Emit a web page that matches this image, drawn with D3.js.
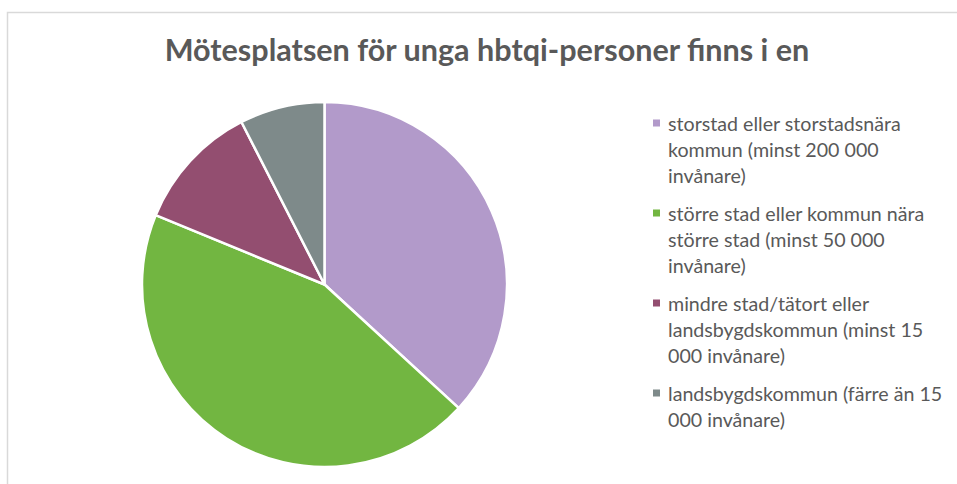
<!DOCTYPE html>
<html>
<head>
<meta charset="utf-8">
<script src="https://cdn.jsdelivr.net/npm/d3@7"></script>
<style>
  body { margin: 0; background: #fff; }
  svg { display: block; }
  text { font-family: Lato, "Open Sans", sans-serif; fill: #595959; }
</style>
</head>
<body>
<svg id="canvas"></svg>
<script>
let title = "Mötesplatsen för unga hbtqi-personer finns i en";

// categories, legend lines as they wrap in the original
let categories = [
  ["storstad eller storstadsnära", "kommun (minst 200 000", "invånare)"],
  ["större stad eller kommun nära", "större stad (minst 50 000", "invånare)"],
  ["mindre stad/tätort eller", "landsbygdskommun (minst 15", "000 invånare)"],
  ["landsbygdskommun (färre än 15", "000 invånare)"]
];
let values = [49, 59, 15, 10];
let colors = ["#B29ACA", "#72B641", "#934E70", "#7E8A8A"];

let width = 957;
let height = 484;

let canvas = d3.select("#canvas");
canvas.attr("width", width).attr("height", height);

// frame of the chart area (only top and left edges are visible)
canvas.append("path")
  .attr("d", "M7.5,484 V12.5 H957")
  .attr("fill", "none")
  .attr("stroke", "#D9D9D9")
  .attr("stroke-width", 1.5);

// title
let titleText = canvas.append("text")
  .attr("x", 487)
  .attr("y", 61)
  .attr("text-anchor", "middle")
  .attr("font-weight", "bold")
  .attr("font-size", 28)
  .text(title);
let tw = titleText.node().getComputedTextLength();
titleText.attr("font-size", 28 * 645 / tw);

// pie
let cx = 324.5;
let cy = 284.5;
let radius = 182.5;

let pie = d3.pie().sort(null).value((d) => d);
let arc = d3.arc().innerRadius(0).outerRadius(radius);

canvas.append("g")
  .attr("transform", "translate(" + cx + "," + cy + ")")
  .selectAll("path")
  .data(pie(values))
  .enter()
  .append("path")
  .attr("d", arc)
  .attr("fill", (d, i) => colors[i])
  .attr("stroke", "#fff")
  .attr("stroke-width", 2.5)
  .attr("stroke-linejoin", "round");

// legend
let lineHeight = 26;
let groupGap = 38;
let legendX = 668;
let legendY = 123;

let legend = canvas.append("g");
let y = legendY;
let fontSize = 18;

// size the font so the first line matches the original width
let probe = legend.append("text").attr("font-size", 18).text(categories[0][0]);
fontSize = 18 * 233 / probe.node().getComputedTextLength();
probe.remove();

categories.forEach((lines, i) => {
  legend.append("rect")
    .attr("x", legendX - 15)
    .attr("y", y - 3.5)
    .attr("width", 7)
    .attr("height", 7)
    .attr("fill", colors[i]);
  let t = legend.append("text")
    .attr("font-size", fontSize)
    .attr("dominant-baseline", "central");
  lines.forEach((line, j) => {
    t.append("tspan")
      .attr("x", legendX)
      .attr("y", y + j * lineHeight)
      .text(line);
  });
  y += (lines.length - 1) * lineHeight + groupGap;
});
</script>
</body>
</html>
